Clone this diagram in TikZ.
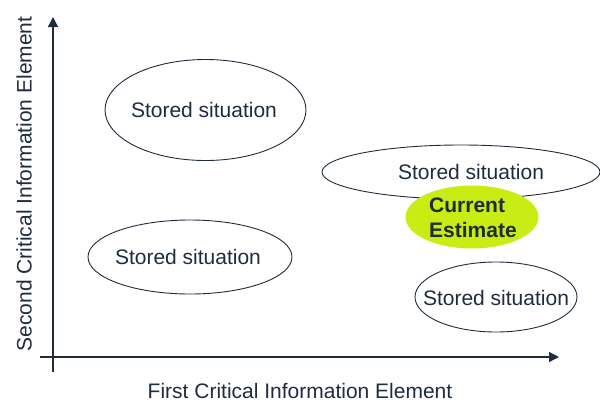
\documentclass[tikz,border=0pt]{standalone}
\usepackage{fontspec}
\setmainfont{Liberation Sans}
\usetikzlibrary{shapes.geometric,arrows.meta}
\definecolor{ink}{RGB}{30,44,62}
\definecolor{estimate}{RGB}{200,236,20}
\tikzset{
  axis/.style={draw=ink, line width=1.3pt, -{Triangle[length=10pt,width=10pt]}},
  situation/.style={ellipse, draw=ink, line width=0.9pt, inner sep=0pt},
  txt/.style={text=ink, font=\fontsize{21}{25}\selectfont, align=center, inner sep=0pt},
  current/.style={ellipse, fill=estimate, draw=none, inner sep=0pt},
}
\begin{document}
\begin{tikzpicture}[x=1pt,y=-1pt]
\useasboundingbox (0,0) rectangle (600,402);

% axes
\coordinate (yb) at (53,372);
\coordinate (yt) at (53,17);
\coordinate (xl) at (40,357);
\coordinate (xr) at (559,357);
\draw[axis] (yb) -- (yt);
\draw[axis] (xl) -- (xr);
\node[txt] (xlab) at (300,391) {First Critical Information Element};
\node[txt, rotate=90] (ylab) at (24,184) {Second Critical Information Element};

% stored situations
\node[situation, minimum width=201pt, minimum height=101pt] (s1) at (205.5,110) {};
\node[txt] (t1) at (204,110) {Stored situation};

\node[situation, minimum width=278pt, minimum height=54pt] (s2) at (461,172) {};
\node[txt] (t2) at (471,172) {Stored situation};

\node[situation, minimum width=204pt, minimum height=74pt] (s3) at (190,257) {};
\node[txt] (t3) at (188,257) {Stored situation};

\node[situation, minimum width=162pt, minimum height=70pt] (s4) at (496,297) {};
\node[txt] (t4) at (496,298) {Stored situation};

% current estimate
\node[current, minimum width=133pt, minimum height=63pt] (ce) at (472,217) {};
\node[txt, align=left, anchor=west, font=\fontsize{21}{25}\selectfont\bfseries] (tce) at (429,218) {Current\\Estimate};
\end{tikzpicture}
\end{document}
